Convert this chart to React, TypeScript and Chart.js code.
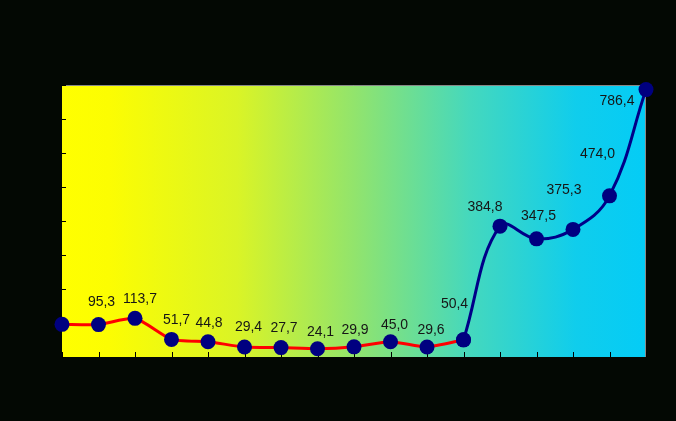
import React, { useEffect, useRef } from "react";
import { Chart, registerables } from "chart.js";

Chart.register(...registerables);

const categories = ["1", "2", "3", "4", "5", "6", "7", "8", "9", "10", "11", "12", "13", "14", "15", "16", "17"];
const values = [96.0, 95.3, 113.7, 51.7, 44.8, 29.4, 27.7, 24.1, 29.9, 45.0, 29.6, 50.4, 384.8, 347.5, 375.3, 474.0, 786.4];
const redEnd = 11; // last index of the red segment
const yTicks = [0, 100, 200, 300, 400, 500, 600, 700, 800];
// label offsets (dx, dy) of the text centre relative to the point; null = no label
const labelOffsets: ([number, number] | null)[] = [
  null, [3, -22], [5, -19], [5, -19], [1, -19], [4, -20], [3, -19], [3, -17], [1, -17],
  [4, -17], [4, -17], [-9, -36], [-15, -19], [2, -23], [-9, -39], [-12, -42], [-29, 12],
];

const redData = values.map((v, i) => (i <= redEnd ? v : null));
const blueData = values.map((v, i) => (i >= redEnd ? v : null));

const fmt = (v: number) => v.toFixed(1).replace(".", ",");

const bgPlugin = {
  id: "bgPlugin",
  beforeDraw(chart: any) {
    const { ctx, chartArea: a, width, height } = chart;
    ctx.save();
    ctx.fillStyle = "#030803";
    ctx.fillRect(0, 0, width, height);
    const g = ctx.createLinearGradient(a.left, 0, a.right, 0);
    g.addColorStop(0, "#ffff00");
    g.addColorStop(0.08, "#fcfd02");
    g.addColorStop(0.3, "#daf426");
    g.addColorStop(0.5, "#92e46c");
    g.addColorStop(0.7, "#44d8be");
    g.addColorStop(0.88, "#10cdec");
    g.addColorStop(1, "#04ccf6");
    ctx.fillStyle = g;
    ctx.fillRect(a.left, a.top, a.right - a.left, a.bottom - a.top);
    // gray top/right border
    ctx.strokeStyle = "#888888";
    ctx.lineWidth = 1;
    ctx.beginPath();
    ctx.moveTo(a.left, a.top + 0.5);
    ctx.lineTo(a.right - 0.5, a.top + 0.5);
    ctx.lineTo(a.right - 0.5, a.bottom);
    ctx.stroke();
    // tick marks inside
    ctx.strokeStyle = "#000000";
    const ys = chart.scales.y;
    yTicks.forEach((t) => {
      const y = Math.round(ys.getPixelForValue(t)) + 0.5;
      ctx.beginPath();
      ctx.moveTo(a.left, y);
      ctx.lineTo(a.left + 4, y);
      ctx.stroke();
    });
    const xs = chart.scales.x;
    categories.forEach((_, i) => {
      const x = Math.round(xs.getPixelForValue(i)) + 0.5;
      ctx.beginPath();
      ctx.moveTo(x, a.bottom - 5);
      ctx.lineTo(x, a.bottom);
      ctx.stroke();
    });
    ctx.restore();
  },
  afterDatasetsDraw(chart: any) {
    const { ctx } = chart;
    const xs = chart.scales.x;
    const ys = chart.scales.y;
    ctx.save();
    ctx.font = "14px 'Liberation Sans', Arial, sans-serif";
    ctx.fillStyle = "#161616";
    ctx.textAlign = "center";
    ctx.textBaseline = "middle";
    values.forEach((v, i) => {
      const off = labelOffsets[i];
      if (!off) return;
      const x = xs.getPixelForValue(i) + off[0];
      const y = ys.getPixelForValue(v) + off[1];
      ctx.fillText(fmt(v), x, y);
    });
    ctx.restore();
  },
};

export default function App() {
  const ref = useRef<HTMLCanvasElement>(null);
  useEffect(() => {
    document.body.style.margin = "0";
    document.body.style.background = "#030803";
    const chart = new Chart(ref.current!, {
      type: "line",
      data: {
        labels: categories,
        datasets: [
          {
            data: blueData,
            borderColor: "#000088",
            borderWidth: 3,
            tension: 0.4,
            pointRadius: 7.5,
            pointBackgroundColor: "#000080",
            pointBorderColor: "#000080",
            pointBorderWidth: 0,
            spanGaps: false,
            clip: false as any,
          },
          {
            data: redData,
            borderColor: "#ff0000",
            borderWidth: 3,
            tension: 0.2,
            pointRadius: 7.5,
            pointBackgroundColor: "#000080",
            pointBorderColor: "#000080",
            pointBorderWidth: 0,
            spanGaps: false,
            clip: false as any,
          },
        ],
      },
      options: {
        responsive: false,
        animation: false,
        layout: { padding: { left: 62, right: 30, top: 85, bottom: 64 } },
        plugins: { legend: { display: false }, tooltip: { enabled: false } },
        scales: {
          x: { display: false, offset: false },
          y: { display: false, min: 0, max: 800 },
        },
      },
      plugins: [bgPlugin],
    });
    return () => chart.destroy();
  }, []);
  return <canvas ref={ref} width={676} height={421} style={{ display: "block" }} />;
}
